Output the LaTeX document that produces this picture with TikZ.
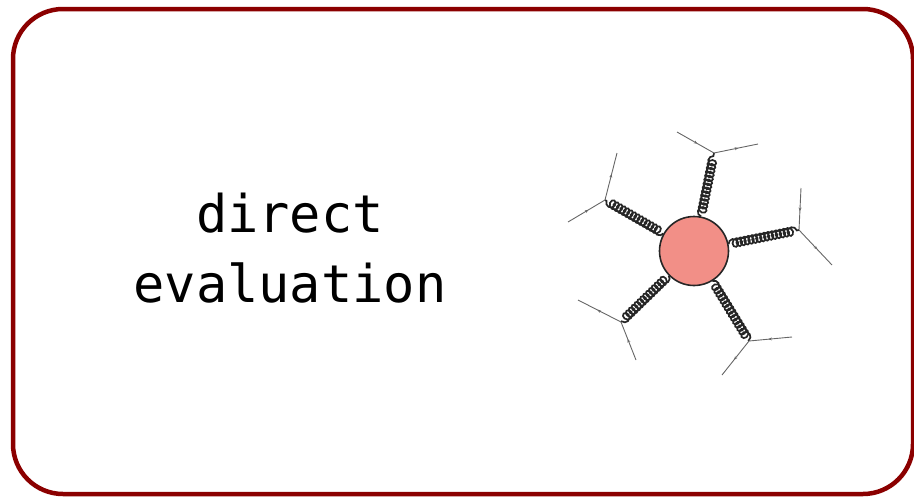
\documentclass[tikz,border=0pt]{standalone}
\usepackage{fontspec}
\setmonofont{DejaVu Sans Mono}
\usetikzlibrary{decorations.pathmorphing,decorations.markings,arrows.meta}
\definecolor{framered}{RGB}{139,0,0}
\definecolor{blobred}{RGB}{242,143,135}
\tikzset{
  gluon/.style={draw=black!85, line width=1.7pt, decorate,
    decoration={coil, aspect=0.9, segment length=4pt, amplitude=4.2pt}},
  fermion/.style={draw=black!60, line width=0.9pt, postaction={decorate},
    decoration={markings, mark=at position 0.55 with {\arrow{Stealth[length=3.5pt,width=3pt]}}}},
}

\begin{document}
\begin{tikzpicture}[x=1pt, y=-1pt]
        \useasboundingbox (0,0) rectangle (914,496);
        \draw[framered, line width=4.5pt, rounded corners=50pt] (13,9) rectangle (913,494);
        \node[font=\ttfamily\fontsize{52}{70}\selectfont, align=center] (label) at (290,248) {direct\\evaluation};

        \node[circle, draw=black!85, line width=1.6pt, fill=blobred, minimum size=69pt, inner sep=0pt] (blob) at (694,251) {};
        % vertex / incoming end / outgoing end for each gluon
        \foreach \i/\v/\a/\b in {1/{714,153}/{677,132}/{758,144},
                                 2/{605,200}/{568,222}/{617,153},
                                 3/{799,230}/{801,188}/{832,265},
                                 4/{749,341}/{792,337}/{722,375},
                                 5/{621,322}/{636,360}/{578,300}} {
          \coordinate (v\i) at (\v);
          \coordinate (in\i) at (\a);
          \coordinate (out\i) at (\b);
          \draw[gluon] (blob) -- (v\i);
          \draw[fermion] (in\i) -- (v\i);
          \draw[fermion] (v\i) -- (out\i);
        }
     \end{tikzpicture}
\end{document}
